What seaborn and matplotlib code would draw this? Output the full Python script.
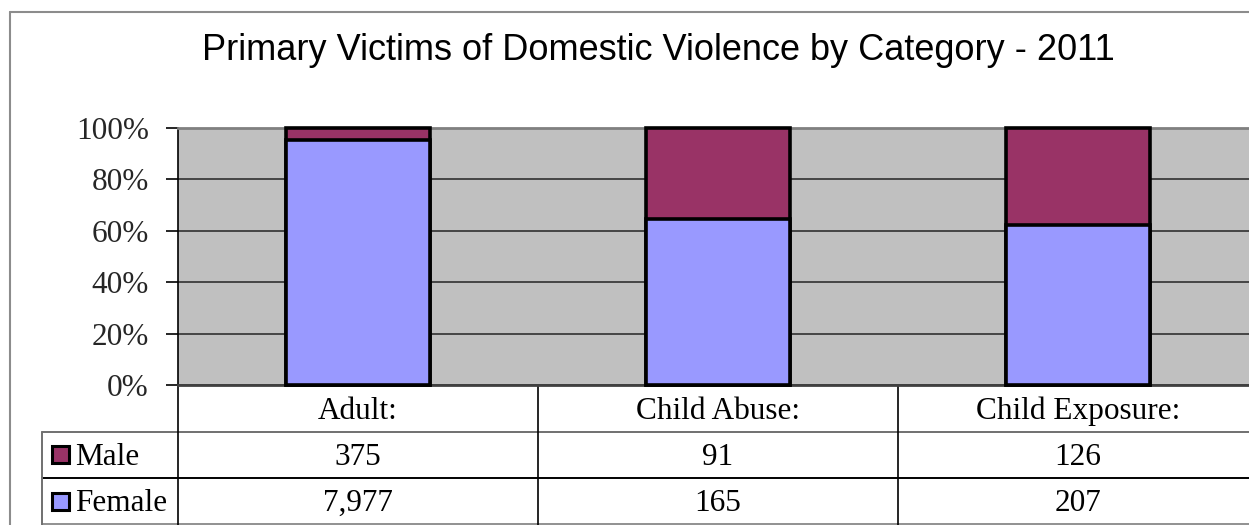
import matplotlib
matplotlib.use("Agg")
import matplotlib.pyplot as plt
from matplotlib.patches import Rectangle
import seaborn as sns

# Primary victims of domestic violence, 2011
categories = ["Adult:", "Child Abuse:", "Child Exposure:"]
male = [375, 91, 126]
female = [7977, 165, 207]
series_names = ["Male", "Female"]
y_ticks = [0, 20, 40, 60, 80, 100]
title = "Primary Victims of Domestic Violence by Category - 2011"

MALE_COLOR = "#993366"
FEMALE_COLOR = "#9999FF"
PLOT_BG = "#C0C0C0"

# 100% stacked shares: female sits at the bottom, male fills the rest
female_pct = [f / (m + f) * 100 for m, f in zip(male, female)]
total_pct = [(m + f) / (m + f) * 100 for m, f in zip(male, female)]

sns.set_style("white")
plt.rcParams["font.family"] = ["Liberation Serif", "DejaVu Serif"]

W, H = 1249, 525
fig = plt.figure(figsize=(W / 100, H / 100), dpi=100)

# plot area (runs past the right edge of the canvas)
ax = fig.add_axes([178 / W, (H - 385) / H, (1258 - 178) / W, (385 - 128) / H])
ax.set_facecolor(PLOT_BG)

sns.barplot(x=categories, y=total_pct, color=MALE_COLOR, saturation=1,
            width=0.4, edgecolor="black", linewidth=2.6, errorbar=None, ax=ax)
sns.barplot(x=categories, y=female_pct, color=FEMALE_COLOR, saturation=1,
            width=0.4, edgecolor="black", linewidth=2.6, errorbar=None, ax=ax)
for p in ax.patches:
    p.set_clip_on(False)
    p.set_zorder(3)

ax.set_xlim(-0.5, 2.5)
ax.set_ylim(0, 100)
ax.set_yticks(y_ticks)
ax.set_yticklabels([f"{t}%" for t in y_ticks])
ax.yaxis.grid(True, color="#303030", linewidth=1.2)
ax.set_axisbelow(True)
ax.set_xlabel("")
ax.set_ylabel("")
ax.tick_params(axis="x", bottom=False, labelbottom=False)
ax.tick_params(axis="y", left=True, length=9, width=1.2, color="black",
               pad=12, labelsize=22.5)
ax.spines["left"].set_color("black")
ax.spines["left"].set_linewidth(1.2)
ax.spines["top"].set_color("#808080")
ax.spines["top"].set_linewidth(2)
ax.spines["bottom"].set_color("#404040")
ax.spines["bottom"].set_linewidth(2)
ax.spines["right"].set_visible(False)

# overlay in pixel coordinates for the title, frame and data table
ov = fig.add_axes([0, 0, 1, 1], zorder=-1)
ov.set_xlim(0, W)
ov.set_ylim(H, 0)
ov.axis("off")

# chart frame
ov.plot([10, 10], [12, H], color="#8c8c8c", lw=1.5)
ov.plot([10, W], [12, 12], color="#8c8c8c", lw=1.5)

ov.text(658, 60, title, ha="center", va="baseline", fontsize=26,
        family=["Liberation Sans", "DejaVu Sans"], color="black")

# column edges follow the category positions of the bar axis
fig.canvas.draw()
edges = [ax.transData.transform((i - 0.5, 0))[0] for i in range(len(categories) + 1)]
centers = [ax.transData.transform((i, 0))[0] for i in range(len(categories))]

baselines = [419, 465, 511]
left_x = 42

# table grid
ov.plot([left_x, W], [432, 432], color="#707070", lw=1.4)
ov.plot([left_x, W], [478, 478], color="black", lw=1.4)
ov.plot([left_x, W], [524, 524], color="#909090", lw=1.4)
ov.plot([left_x, left_x], [432, H], color="#707070", lw=1.4)
for e in edges:
    ov.plot([e, e], [385, H], color="black", lw=1.2)

text_kw = dict(fontsize=22.5, va="baseline", color="black")
for c, cat in zip(centers, categories):
    ov.text(c, baselines[0], cat, ha="center", **text_kw)
for c, m in zip(centers, male):
    ov.text(c, baselines[1], f"{m:,}", ha="center", **text_kw)
for c, f in zip(centers, female):
    ov.text(c, baselines[2], f"{f:,}", ha="center", **text_kw)

# legend keys inside the table
for name, col, top, base in zip(series_names, [MALE_COLOR, FEMALE_COLOR],
                                [446, 493], baselines[1:]):
    ov.add_patch(Rectangle((52, top), 17, 17, facecolor=col,
                           edgecolor="black", lw=2.2))
    ov.text(75, base, name, ha="left", **text_kw)

fig.savefig("out.png", dpi=100, facecolor="white")
